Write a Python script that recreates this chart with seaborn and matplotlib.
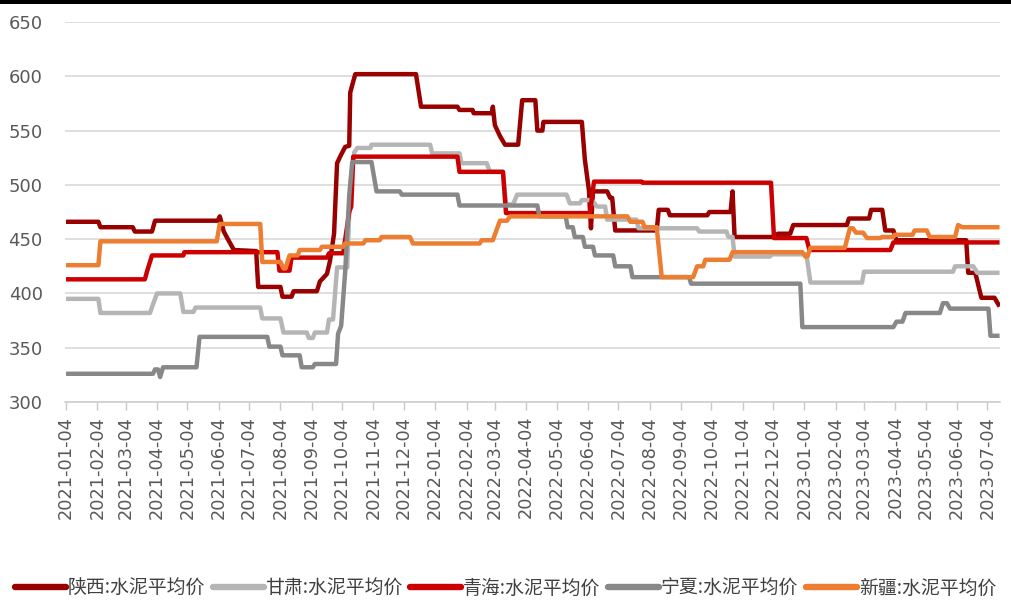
import pandas as pd
import matplotlib
matplotlib.use("Agg")
import matplotlib.pyplot as plt
from matplotlib.patches import Rectangle
import seaborn as sns

# Cement average price (元/吨), sampled at the days (counted from 2021-01-04) where the price changes
start = pd.Timestamp("2021-01-04")

shaanxi_days = [0, 32, 34, 66, 68, 85, 88, 150, 152, 156, 160, 166, 188, 190, 212, 214, 223, 225, 248, 251,
                258, 261, 265, 268, 271, 276, 280, 281, 283, 286, 346, 351, 387, 389, 402, 403, 421, 422, 424, 429,
                434, 447, 451, 464, 466, 471, 472, 510, 513, 517, 519, 521, 535, 538, 540, 543, 584, 586, 595, 597,
                634, 636, 657, 659, 661, 699, 704, 716, 719, 772, 774, 794, 796, 807, 810, 818, 821, 890, 892, 899,
                905, 918, 923]
shaanxi_vals = [466, 466, 461, 461, 457, 457, 467, 467, 471, 457, 450, 440, 439, 406, 406, 397, 397, 402, 402, 411,
                418, 430, 455, 520, 526, 535, 536, 585, 592, 602, 602, 572, 572, 569, 569, 566, 566, 572, 555, 545,
                537, 537, 578, 578, 550, 550, 558, 558, 523, 495, 460, 494, 494, 488, 488, 458, 458, 477, 477, 472,
                472, 475, 475, 494, 452, 452, 455, 455, 463, 463, 469, 469, 477, 477, 458, 458, 449, 449, 419, 419,
                396, 396, 388]

gansu_days = [0, 32, 34, 83, 86, 90, 113, 116, 126, 128, 192, 194, 212, 215, 238, 240, 244, 246, 258, 260,
              264, 268, 278, 281, 285, 288, 301, 302, 360, 362, 389, 391, 416, 419, 432, 435, 442, 446, 495, 498,
              508, 510, 520, 525, 533, 535, 564, 566, 624, 626, 653, 655, 659, 661, 696, 698, 732, 736, 787, 789,
              877, 879, 897, 901, 923]
gansu_vals = [395, 395, 382, 382, 390, 400, 400, 383, 383, 387, 387, 377, 377, 364, 364, 359, 359, 364, 364, 376,
              376, 424, 424, 500, 530, 534, 534, 537, 537, 529, 529, 520, 520, 512, 512, 482, 482, 491, 491, 483,
              483, 486, 486, 480, 480, 468, 468, 460, 460, 457, 457, 452, 452, 434, 434, 436, 436, 410, 410, 420,
              420, 425, 425, 419, 419]

qinghai_days = [0, 78, 80, 85, 116, 117, 209, 211, 221, 223, 258, 260, 274, 280, 282, 284, 387, 389, 432, 435,
                518, 522, 569, 570, 697, 700, 732, 735, 815, 818, 923]
qinghai_vals = [413, 413, 420, 435, 435, 438, 438, 421, 421, 433, 433, 437, 437, 475, 480, 526, 526, 512, 512, 474,
                474, 503, 503, 502, 502, 451, 451, 440, 440, 447, 447]

ningxia_days = [0, 86, 88, 91, 93, 96, 129, 132, 199, 201, 212, 214, 231, 233, 244, 246, 267, 269, 272, 276,
                280, 283, 302, 307, 330, 332, 387, 389, 466, 468, 494, 496, 501, 503, 511, 513, 521, 523, 541, 543,
                558, 560, 616, 618, 726, 728, 818, 821, 827, 830, 864, 867, 871, 874, 912, 914, 923]
ningxia_vals = [326, 326, 330, 330, 323, 332, 332, 360, 360, 351, 351, 343, 343, 332, 332, 335, 335, 363, 370, 420,
                490, 521, 521, 494, 494, 491, 491, 481, 481, 471, 471, 461, 461, 452, 452, 443, 443, 435, 435, 425,
                425, 415, 415, 409, 409, 369, 369, 374, 374, 382, 382, 391, 391, 386, 386, 361, 361]

xinjiang_days = [0, 32, 34, 149, 152, 192, 194, 212, 215, 217, 221, 229, 231, 251, 253, 274, 276, 294, 296, 310,
                 312, 340, 343, 409, 411, 422, 429, 436, 439, 555, 558, 570, 572, 584, 589, 620, 624, 630, 632, 656,
                 659, 728, 731, 733, 736, 770, 775, 778, 781, 788, 792, 805, 807, 818, 819, 837, 839, 851, 854, 879,
                 882, 886, 923]
xinjiang_vals = [426, 426, 448, 448, 464, 464, 429, 429, 423, 423, 435, 435, 440, 440, 443, 443, 446, 446, 449, 449,
                 452, 452, 446, 446, 449, 449, 467, 467, 471, 471, 466, 466, 461, 461, 415, 415, 425, 425, 431, 431,
                 438, 438, 434, 434, 442, 442, 460, 460, 456, 456, 451, 451, 452, 452, 454, 454, 458, 458, 452, 452,
                 463, 461, 461]

series_names = ["陕西:水泥平均价", "甘肃:水泥平均价", "青海:水泥平均价", "宁夏:水泥平均价", "新疆:水泥平均价"]
series_colors = ["#990000", "#B5B5B5", "#CC0000", "#888888", "#ED7D31"]
series_data = [(shaanxi_days, shaanxi_vals), (gansu_days, gansu_vals), (qinghai_days, qinghai_vals),
               (ningxia_days, ningxia_vals), (xinjiang_days, xinjiang_vals)]

y_ticks = [300, 350, 400, 450, 500, 550, 600, 650]
x_tick_first, x_tick_last = "2021-01-04", "2023-07-04"

frames = []
for name, (days, vals) in zip(series_names, series_data):
    frames.append(pd.DataFrame({
        "date": start + pd.to_timedelta(days, unit="D"),
        "price": vals,
        "series": name,
    }))
df = pd.concat(frames, ignore_index=True)

sns.set_theme(style="white")
plt.rcParams["font.family"] = ["DejaVu Sans", "Noto Sans CJK SC"]

fig = plt.figure(figsize=(10.11, 6.0), dpi=100)
ax = fig.add_axes([0.0643, 0.33, 0.9247, 0.6333])

sns.lineplot(data=df, x="date", y="price", hue="series", hue_order=series_names,
             palette=series_colors, estimator=None, sort=False, units="series",
             linewidth=3.2, ax=ax, legend=False)
for line in ax.lines:
    line.set_solid_joinstyle("round")
    line.set_solid_capstyle("butt")

ax.set_ylim(300, 650)
ax.set_yticks(y_ticks)
ax.set_xlim(start - pd.Timedelta(days=1), start + pd.Timedelta(days=923.3))
tick_dates = pd.date_range(x_tick_first, x_tick_last, freq=pd.DateOffset(months=1))
ax.set_xticks(tick_dates)
ax.set_xticklabels([d.strftime("%Y-%m-%d") for d in tick_dates])

ax.set_xlabel("")
ax.set_ylabel("")
ax.grid(axis="y", color="#d9d9d9", linewidth=1.2)
ax.grid(axis="x", visible=False)
for side in ["top", "right", "left"]:
    ax.spines[side].set_visible(False)
ax.spines["bottom"].set_color("#d0d0d0")
ax.spines["bottom"].set_linewidth(1.2)

ax.tick_params(axis="x", which="major", direction="out", length=6, width=1, color="#c8c8c8",
               labelrotation=90, labelsize=12.8, labelcolor="#595959", pad=4, bottom=True)
ax.tick_params(axis="y", length=0, labelsize=13, labelcolor="#595959", pad=16)

handles = [plt.Line2D([0], [0], color=c, linewidth=4.6, solid_capstyle="round") for c in series_colors]
fig.legend(handles, series_names, loc="center", bbox_to_anchor=(0.5, 1 - 588 / 600), ncol=5,
           frameon=False, handlelength=2.7, handletextpad=0.1, columnspacing=0.4,
           prop={"family": ["Noto Sans CJK SC", "DejaVu Sans"], "size": 13.6},
           labelcolor="#404040")

# thin black band across the top edge
fig.add_artist(Rectangle((0, 1 - 3.5 / 600), 1, 3.5 / 600, transform=fig.transFigure,
                         facecolor="black", edgecolor="none"))

fig.savefig("out.png", dpi=100)
